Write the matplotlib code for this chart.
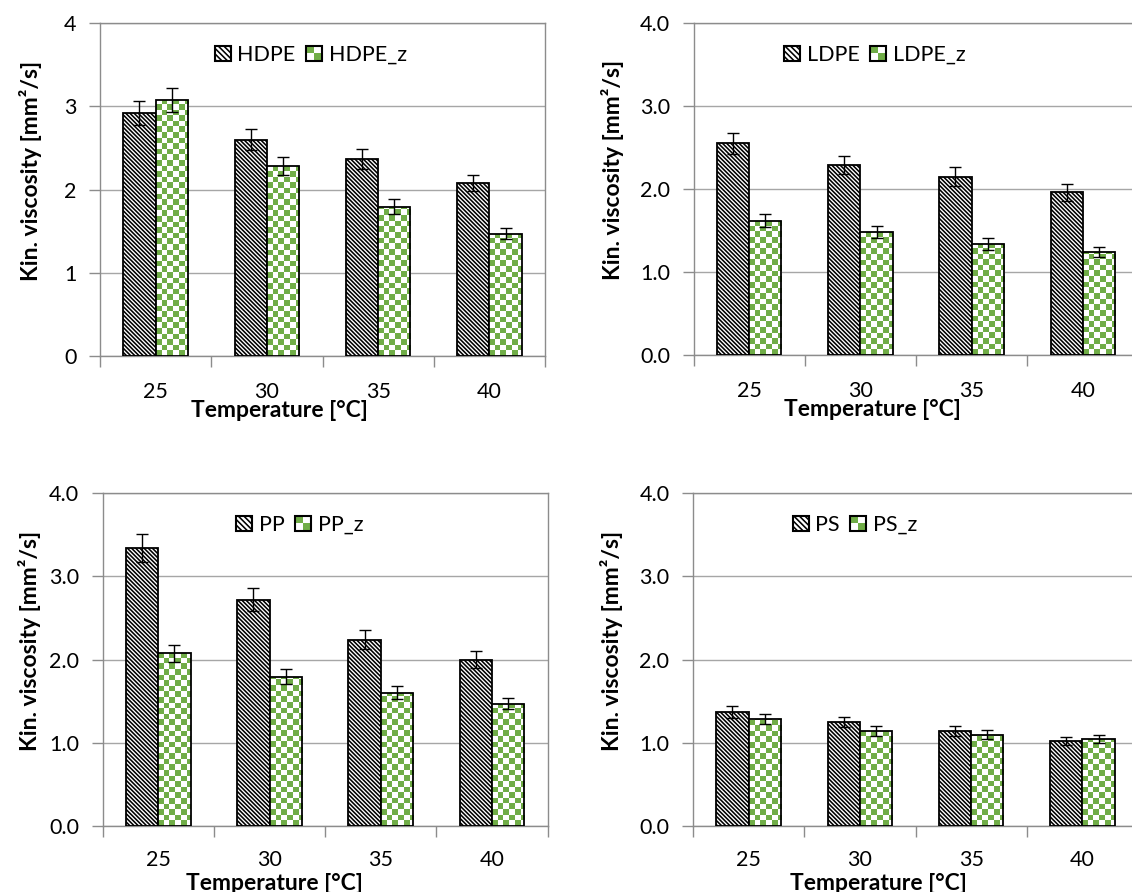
import numpy as np
import matplotlib
matplotlib.use("Agg")
import matplotlib.pyplot as plt
from matplotlib.colors import ListedColormap
from matplotlib.patches import Rectangle
from matplotlib.legend_handler import HandlerBase

# ---- data -------------------------------------------------------------
temperatures = ["25", "30", "35", "40"]

hdpe = [2.92, 2.60, 2.37, 2.08]
hdpe_err = [0.14, 0.13, 0.12, 0.10]
hdpe_z = [3.075, 2.28, 1.79, 1.47]
hdpe_z_err = [0.15, 0.11, 0.09, 0.07]

ldpe = [2.55, 2.29, 2.15, 1.96]
ldpe_err = [0.13, 0.11, 0.11, 0.10]
ldpe_z = [1.62, 1.48, 1.34, 1.245]
ldpe_z_err = [0.08, 0.07, 0.07, 0.06]

pp = [3.34, 2.72, 2.24, 2.00]
pp_err = [0.17, 0.135, 0.11, 0.10]
pp_z = [2.075, 1.79, 1.60, 1.47]
pp_z_err = [0.10, 0.09, 0.08, 0.07]

ps = [1.37, 1.25, 1.145, 1.02]
ps_err = [0.07, 0.06, 0.06, 0.05]
ps_z = [1.285, 1.14, 1.095, 1.045]
ps_z_err = [0.065, 0.06, 0.055, 0.05]

ylabel = "Kin. viscosity [mm²/s]"
xlabel = "Temperature [°C]"

# ---- style ------------------------------------------------------------
W, H = 1132, 892
DPI = 100
GREEN = "#70AD47"
GRID = "#A6A6A6"
SPINE = "#8C8C8C"
FONT = ["Lato", "DejaVu Sans"]
plt.rcParams["font.family"] = FONT
plt.rcParams["hatch.linewidth"] = 1.15
plt.rcParams["hatch.color"] = "black"
FS = 15.5
FS_LAB = 16.5
BAR_W = 0.29
HATCH = "\\" * 8
CHECK_PX = 5.6  # checker square size in pixels

fig = plt.figure(figsize=(W / DPI, H / DPI), dpi=DPI)


def px_axes(left, top, right, bottom):
    return fig.add_axes([left / W, 1 - bottom / H, (right - left) / W, (bottom - top) / H])


class CheckerHandler(HandlerBase):
    """Legend key drawn as a small 2x2 green/white checkerboard."""

    def create_artists(self, legend, orig_handle, xdescent, ydescent,
                       width, height, fontsize, trans):
        s = min(width, height)
        x0, y0 = -xdescent, -ydescent
        h = s / 2
        arts = [Rectangle((x0, y0), s, s, facecolor="white", edgecolor="none", transform=trans),
                Rectangle((x0, y0 + h), h, h, facecolor=GREEN, edgecolor="none", transform=trans),
                Rectangle((x0 + h, y0), h, h, facecolor=GREEN, edgecolor="none", transform=trans),
                Rectangle((x0, y0), s, s, facecolor="none", edgecolor="black", lw=1.5, transform=trans)]
        return arts


def panel(ax, a, a_err, b, b_err, names, yfmt, legend_xy, xlab_xy, ylab_xy, tick_pad=19):
    x = np.arange(len(temperatures))
    ax.set_xlim(-0.5, len(temperatures) - 0.5)
    ax.set_ylim(0, 4)

    ax.bar(x - BAR_W / 2, a, BAR_W, facecolor="white", edgecolor="black",
           linewidth=1.3, hatch=HATCH, zorder=3)
    bars_b = ax.bar(x + BAR_W / 2, b, BAR_W, facecolor="white", edgecolor="none", zorder=3)

    # checkerboard fill for the second series, clipped to each bar
    cmap = ListedColormap(["white", GREEN])
    bbox = ax.get_position()
    dx = (ax.get_xlim()[1] - ax.get_xlim()[0]) / (bbox.width * W)
    dy = (ax.get_ylim()[1] - ax.get_ylim()[0]) / (bbox.height * H)
    for rect in bars_b:
        x0, w, h = rect.get_x(), rect.get_width(), rect.get_height()
        nc = int(np.ceil(w / (CHECK_PX * dx))) + 1
        nr = int(np.ceil(h / (CHECK_PX * dy))) + 1
        ii, jj = np.indices((nr, nc))
        board = ((ii + jj) % 2 == 0).astype(float)
        im = ax.imshow(board, cmap=cmap, vmin=0, vmax=1, origin="lower",
                       interpolation="nearest", aspect="auto",
                       extent=[x0, x0 + nc * CHECK_PX * dx, 0, nr * CHECK_PX * dy],
                       zorder=3.1)
        im.set_clip_path(rect)
    ax.bar(x + BAR_W / 2, b, BAR_W, fill=False, edgecolor="black", linewidth=1.3, zorder=3.2)

    ax.errorbar(x - BAR_W / 2, a, yerr=a_err, fmt="none", ecolor="black",
                elinewidth=1.0, capsize=4.2, capthick=1.0, zorder=4)
    ax.errorbar(x + BAR_W / 2, b, yerr=b_err, fmt="none", ecolor="black",
                elinewidth=1.0, capsize=4.2, capthick=1.0, zorder=4)

    ax.set_xlim(-0.5, len(temperatures) - 0.5)
    ax.set_ylim(0, 4)

    # axes styling
    ax.set_yticks(np.arange(0, 5, 1))
    ax.set_yticklabels([yfmt.format(v) for v in np.arange(0, 5, 1)])
    ax.yaxis.grid(True, color=GRID, linewidth=1.0, zorder=0)
    ax.set_axisbelow(True)
    ax.set_xticks(np.arange(-0.5, len(temperatures), 1.0))
    ax.set_xticklabels([])
    ax.set_xticks(x, minor=True)
    ax.set_xticklabels(temperatures, minor=True)
    ax.tick_params(axis="x", which="major", length=8, width=1.0, color=SPINE, direction="out")
    ax.tick_params(axis="x", which="minor", length=0, pad=tick_pad, labelsize=FS)
    ax.tick_params(axis="y", length=8, width=1.0, color=SPINE, pad=9, labelsize=FS)
    for s in ax.spines.values():
        s.set_color(SPINE)
        s.set_linewidth(1.0)

    ax.set_xlabel(xlabel, fontsize=FS_LAB, fontweight="bold")
    ax.xaxis.set_label_coords(*xlab_xy)
    ax.xaxis.label.set_va("center")
    ax.set_ylabel(ylabel, fontsize=FS_LAB, fontweight="bold")
    ax.yaxis.set_label_coords(*ylab_xy)
    ax.yaxis.label.set_va("center")

    h1 = Rectangle((0, 0), 1, 1, facecolor="white", edgecolor="black", lw=1.5, hatch="\\" * 6)
    h2 = Rectangle((0, 0), 1, 1)
    leg = fig.legend([h1, h2], names, loc="center",
                     bbox_to_anchor=(legend_xy[0] / W, 1 - legend_xy[1] / H),
                     ncol=2, frameon=False, fontsize=FS, handlelength=0.75, handleheight=0.75,
                     handletextpad=0.3, columnspacing=0.5,
                     handler_map={h2: CheckerHandler()})
    return leg


ax1 = px_axes(100, 23, 545, 356)
ax2 = px_axes(693.5, 23, 1138.5, 355)
ax3 = px_axes(102.7, 493, 547.5, 826)
ax4 = px_axes(693, 493, 1138, 826)

panel(ax1, hdpe, hdpe_err, hdpe_z, hdpe_z_err, ["HDPE", "HDPE_z"], "{:.0f}",
      (311, 55), (0.404, -0.165), (-0.157, 0.556))
panel(ax2, ldpe, ldpe_err, ldpe_z, ldpe_z_err, ["LDPE", "LDPE_z"], "{:.1f}",
      (875, 55), (0.401, -0.165), (-0.183, 0.556))
panel(ax3, pp, pp_err, pp_z, pp_z_err, ["PP", "PP_z"], "{:.1f}",
      (300, 525), (0.387, -0.172), (-0.165, 0.556), tick_pad=17)
panel(ax4, ps, ps_err, ps_z, ps_z_err, ["PS", "PS_z"], "{:.1f}",
      (855, 525), (0.416, -0.172), (-0.183, 0.556), tick_pad=17)

fig.savefig("out.png", dpi=DPI)
